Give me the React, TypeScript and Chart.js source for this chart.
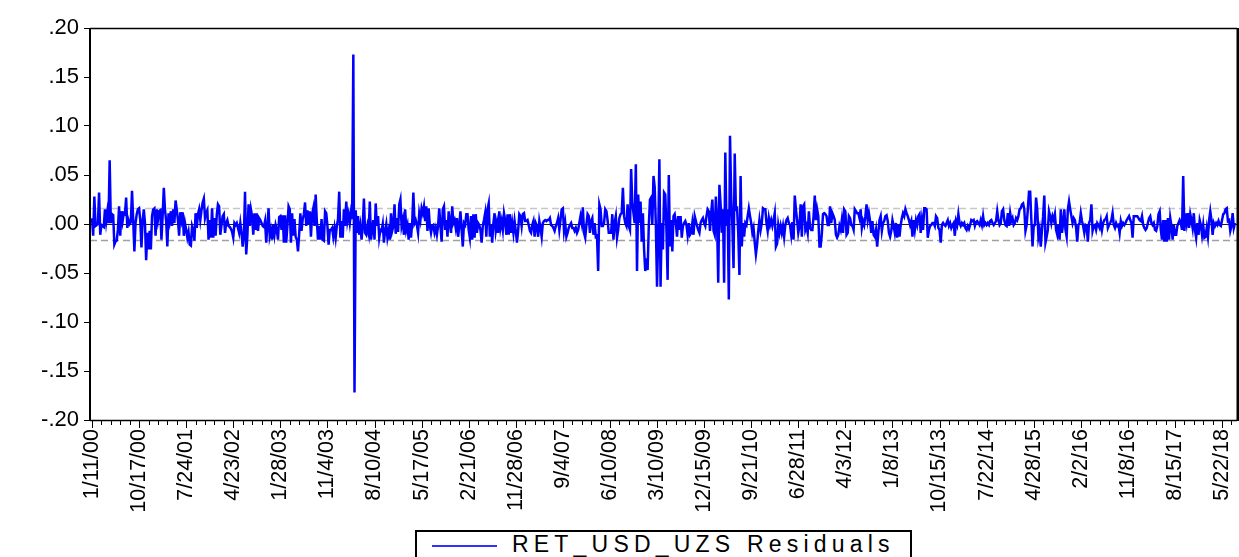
import { useEffect, useRef } from 'react';
import { Chart, registerables } from 'chart.js';

Chart.register(...registerables);

// Weekly residuals of RET_USD_UZS, starting 1/11/00 (one value per week)
const residJan2000toAug2001 = [
  0.006,-0.012,0.028,-0.002,-0.001,0.000,0.032,-0.011,-0.001,-0.002,
  -0.003,0.015,0.002,0.012,0.001,0.065,0.001,0.010,0.009,-0.021,
  -0.018,-0.017,-0.006,0.018,-0.012,0.013,0.003,0.011,0.010,0.027,
  -0.004,0.004,0.000,0.002,0.034,0.004,-0.028,0.001,0.010,0.015,
  0.016,0.004,-0.024,0.003,0.015,0.001,-0.037,-0.009,-0.026,-0.007,
  -0.026,0.008,0.015,0.016,-0.012,0.015,0.004,0.013,0.014,-0.016,
  0.008,0.037,0.015,0.003,-0.023,0.011,0.003,0.013,-0.002,0.015,
  0.001,0.024,0.015,0.004,-0.012,0.012,0.004,0.012,-0.012,0.001,
  -0.006,-0.014,-0.008,-0.021,
];
const residAug2001toApr2003 = [
  -0.022,-0.002,-0.006,-0.017,0.011,-0.004,0.010,0.015,0.004,0.014,
  0.022,0.026,0.006,0.011,0.014,-0.016,0.004,-0.014,0.016,-0.014,
  0.006,-0.012,0.009,0.020,0.018,-0.011,-0.001,0.008,0.010,-0.009,
  0.001,0.004,-0.002,-0.003,-0.005,-0.008,-0.014,0.001,-0.001,0.001,
  -0.004,-0.009,0.001,-0.009,-0.023,-0.012,0.033,-0.031,-0.012,0.020,
  -0.002,0.015,0.008,-0.011,0.011,-0.006,0.011,-0.007,0.006,0.004,
  0.001,-0.002,-0.003,0.003,-0.019,-0.002,0.016,-0.012,-0.006,-0.016,
  -0.001,-0.011,-0.001,-0.006,-0.016,0.007,0.008,-0.006,0.009,-0.019,
  0.009,-0.019,-0.002,0.018,0.015,-0.019,0.011,-0.012,0.005,
];
const residMay2003toJan2005 = [
  -0.013,-0.016,-0.028,-0.010,0.011,-0.007,0.005,0.010,0.022,-0.002,
  0.014,0.000,0.013,-0.013,0.010,0.016,-0.002,0.030,0.003,-0.016,
  -0.002,-0.016,0.005,-0.016,-0.017,0.013,0.011,-0.002,-0.021,-0.006,
  -0.006,-0.004,-0.013,-0.004,-0.014,-0.002,0.005,0.033,-0.014,0.003,
  -0.014,0.015,-0.002,0.023,0.003,0.010,0.001,0.012,0.005,0.173,
  -0.172,0.014,-0.009,0.008,-0.011,-0.002,-0.016,-0.002,0.026,-0.009,
  -0.011,-0.002,-0.009,0.023,-0.016,-0.006,0.004,-0.016,0.021,-0.002,
  0.008,-0.014,-0.006,-0.007,0.000,-0.019,-0.007,0.000,-0.014,-0.007,
  -0.016,0.011,-0.007,-0.002,0.020,-0.010,0.006,-0.008,0.020,
];
const residFeb2005toOct2006 = [
  0.025,-0.002,0.004,-0.011,0.015,-0.006,-0.001,-0.016,0.001,-0.014,
  0.001,0.032,0.001,0.004,-0.001,-0.009,0.011,0.004,0.016,0.011,
  0.018,0.003,0.018,-0.007,0.016,-0.002,-0.009,-0.002,-0.001,-0.009,
  -0.004,-0.011,-0.002,0.016,-0.002,-0.018,0.015,0.018,-0.006,0.004,
  -0.013,0.013,0.001,-0.009,0.018,0.001,0.004,-0.004,0.006,-0.013,
  -0.002,0.013,-0.006,-0.023,0.001,-0.001,0.010,0.010,-0.006,-0.014,
  0.008,-0.016,0.010,-0.014,0.010,-0.009,0.001,-0.001,-0.006,-0.019,
  -0.002,0.004,0.011,-0.013,0.015,0.021,-0.013,-0.001,-0.019,0.001,
  0.011,-0.007,0.001,-0.009,0.013,-0.004,0.003,-0.006,0.011,
];
const residOct2006toJun2008 = [
  0.004,-0.011,0.010,-0.011,0.010,-0.009,0.001,-0.009,0.003,-0.007,
  -0.019,-0.007,0.010,0.008,-0.002,0.010,0.011,0.003,0.003,0.004,
  -0.001,-0.007,-0.009,-0.001,0.003,-0.013,0.001,-0.002,-0.013,0.003,
  -0.004,-0.013,0.001,0.003,0.004,0.003,0.004,0.004,0.006,-0.001,
  -0.002,-0.004,-0.007,-0.002,0.001,0.006,-0.006,0.004,0.015,0.016,
  -0.007,0.001,-0.013,-0.009,-0.004,-0.001,0.001,-0.004,-0.004,-0.007,
  -0.004,-0.009,-0.006,0.001,0.008,0.001,0.017,-0.009,-0.014,-0.001,
  0.010,0.008,-0.009,0.003,0.006,-0.011,0.001,-0.013,-0.012,-0.048,
  0.020,0.015,-0.002,-0.002,0.001,0.015,0.013,0.004,-0.009,-0.009,
];
const residJun2008toFeb2010 = [
  -0.009,0.010,-0.016,0.001,0.008,-0.014,-0.006,0.006,0.010,0.011,
  0.037,0.008,0.001,-0.002,0.020,-0.002,-0.006,0.056,0.021,0.011,
  0.001,0.061,-0.048,0.030,0.001,0.023,-0.018,0.011,-0.026,-0.048,
  -0.035,-0.047,-0.002,0.025,0.027,-0.001,0.049,0.038,-0.001,-0.064,
  -0.013,0.066,-0.064,0.001,-0.026,0.032,0.030,-0.006,-0.057,0.050,
  -0.023,0.004,-0.028,0.008,0.010,0.001,-0.013,0.008,-0.006,0.008,
  -0.014,-0.002,0.001,0.003,-0.001,-0.011,0.001,-0.011,-0.009,0.001,
  -0.011,0.008,0.003,-0.002,-0.006,-0.009,0.001,0.004,0.006,0.001,
  -0.002,0.008,0.015,0.013,-0.007,0.011,0.025,-0.007,-0.011,
];
const residFeb2010toNov2011 = [
  0.028,0.003,-0.060,0.040,0.020,-0.009,0.015,-0.060,0.073,-0.002,
  0.015,-0.077,0.090,0.028,-0.002,-0.045,0.072,0.015,0.016,-0.009,
  -0.052,0.049,-0.023,0.001,-0.013,0.001,-0.001,0.008,0.016,0.008,
  0.001,-0.009,-0.004,-0.019,-0.031,-0.021,-0.007,0.004,-0.006,0.001,
  0.016,0.015,0.015,0.001,-0.007,0.006,-0.001,0.004,-0.002,0.004,
  0.011,-0.023,-0.020,-0.001,-0.009,-0.002,-0.009,-0.002,-0.013,-0.001,
  0.004,0.006,0.001,-0.001,-0.011,0.002,-0.016,0.029,0.015,0.004,
  -0.009,-0.002,0.020,-0.013,0.018,0.020,-0.006,-0.002,-0.009,0.013,
  -0.004,-0.006,-0.006,0.008,0.029,0.004,0.015,0.008,-0.023,
];
const residNov2011toJul2013 = [
  -0.023,-0.010,0.010,0.011,0.010,0.008,-0.001,-0.001,0.018,0.001,
  0.011,0.008,0.004,-0.011,-0.014,-0.011,-0.002,-0.006,0.004,-0.009,
  0.015,0.013,-0.011,-0.009,0.008,0.006,-0.001,-0.002,-0.006,0.015,
  0.013,0.011,0.011,0.006,0.015,-0.004,0.003,-0.001,0.008,0.020,
  0.004,0.011,0.003,-0.009,0.003,-0.011,-0.013,-0.006,-0.023,-0.009,
  0.004,0.008,-0.007,0.001,0.003,0.008,0.009,0.003,-0.009,-0.013,
  -0.007,0.004,-0.002,-0.009,0.001,-0.014,-0.001,-0.013,-0.001,0.006,
  0.011,0.008,0.015,0.011,0.008,0.004,-0.001,0.003,-0.013,0.004,
  -0.006,0.004,-0.001,0.008,0.010,-0.009,0.004,-0.006,0.016,
];
const residJul2013toMar2015 = [
  0.016,0.015,-0.014,-0.006,-0.002,-0.001,0.001,0.001,-0.002,0.008,
  0.006,-0.004,-0.006,-0.019,-0.001,0.001,-0.001,-0.002,0.001,0.004,
  -0.002,0.001,-0.004,-0.001,0.001,-0.012,0.003,-0.001,0.010,0.001,
  -0.002,0.001,-0.001,0.001,-0.004,-0.006,-0.002,-0.005,-0.001,0.004,
  0.003,0.004,-0.002,0.002,0.003,0.001,-0.001,0.004,-0.001,0.008,
  -0.001,0.001,-0.001,0.001,-0.001,0.003,0.004,0.001,-0.001,0.001,
  0.003,0.013,0.004,-0.001,0.001,0.013,0.015,0.004,-0.001,-0.002,
  0.011,-0.002,0.011,0.003,0.006,-0.001,0.001,0.006,0.004,0.008,
  0.015,0.016,0.020,0.021,0.015,-0.007,-0.001,0.015,0.033,
];
const residApr2015toDec2016 = [
  0.033,0.004,-0.023,-0.002,-0.001,0.027,0.015,-0.013,-0.006,-0.023,
  -0.006,0.008,0.029,-0.019,-0.013,-0.006,0.013,0.008,0.001,0.008,
  0.004,0.010,-0.006,-0.011,-0.001,-0.016,0.015,-0.009,0.001,0.015,
  -0.006,-0.013,0.015,0.023,0.015,0.008,0.001,0.006,0.004,-0.004,
  -0.018,-0.001,0.001,0.011,0.003,-0.002,-0.009,-0.001,-0.002,-0.018,
  0.001,0.004,0.020,-0.007,-0.002,-0.001,-0.006,0.001,-0.001,-0.004,
  0.003,-0.006,0.001,0.004,0.005,0.008,-0.004,-0.001,0.001,0.004,
  0.011,-0.001,-0.004,0.001,-0.002,-0.001,-0.009,0.003,-0.002,0.001,
  -0.001,0.001,0.004,0.006,0.008,0.004,0.001,-0.014,0.008,0.008,
];
const residDec2016toJul2018 = [
  0.008,0.008,0.006,0.004,0.003,0.008,-0.001,-0.004,-0.006,-0.004,
  0.001,0.006,0.008,0.001,-0.001,0.001,-0.006,-0.007,-0.002,0.010,
  0.013,-0.006,-0.016,0.004,-0.018,0.004,-0.018,0.006,-0.016,0.006,
  -0.002,-0.016,-0.001,-0.011,-0.011,-0.002,0.001,0.004,0.001,-0.006,
  0.049,-0.007,0.011,0.001,0.011,-0.004,0.010,0.004,-0.004,0.011,
  -0.006,-0.014,0.001,-0.011,0.004,-0.001,-0.011,-0.001,-0.014,-0.013,
  -0.004,-0.013,0.004,0.013,0.004,-0.011,0.001,-0.002,0.001,-0.001,
  0.003,-0.001,-0.002,0.004,0.010,0.011,0.015,0.016,0.003,0.004,
  -0.007,-0.002,0.011,-0.004,0.001,
];

// Date labels shown every 40 weeks on the x axis
const tickLabels = [
  '1/11/00', '10/17/00', '7/24/01', '4/23/02', '1/28/03', '11/4/03', '8/10/04',
  '5/17/05', '2/21/06', '11/28/06', '9/4/07', '6/10/08', '3/10/09', '12/15/09',
  '9/21/10', '6/28/11', '4/3/12', '1/8/13', '10/15/13', '7/22/14', '4/28/15',
  '2/2/16', '11/8/16', '8/15/17', '5/22/18',
];
const labelEvery = 40;
const minorTickEvery = 8;

// Y axis ticks and the +/- band drawn as dashed lines
const yTicks = [-0.2, -0.15, -0.1, -0.05, 0, 0.05, 0.1, 0.15, 0.2];
const bandUpper = 0.0168;
const bandLower = -0.0165;

const seriesName = 'RET_USD_UZS Residuals';

const residuals: number[] = [
  ...residJan2000toAug2001,
  ...residAug2001toApr2003,
  ...residMay2003toJan2005,
  ...residFeb2005toOct2006,
  ...residOct2006toJun2008,
  ...residJun2008toFeb2010,
  ...residFeb2010toNov2011,
  ...residNov2011toJul2013,
  ...residJul2013toMar2015,
  ...residApr2015toDec2016,
  ...residDec2016toJul2018,
];

const FONT = "'Liberation Sans', Arial, sans-serif";

const fmtY = (v: number) => {
  const s = v.toFixed(2);
  return s.replace(/^(-?)0\./, '$1.');
};

const framePlugin = {
  id: 'eviewsFrame',
  beforeDatasetsDraw(chart: any) {
    const { ctx, chartArea, scales } = chart;
    const { left, right } = chartArea;
    const y = scales.y;
    ctx.save();
    ctx.setLineDash([7, 4]);
    ctx.lineWidth = 1.3;
    ctx.strokeStyle = '#c6c6c6';
    let py = Math.round(y.getPixelForValue(bandUpper)) + 0.5;
    ctx.beginPath(); ctx.moveTo(left, py); ctx.lineTo(right, py); ctx.stroke();
    ctx.strokeStyle = '#a0a0a0';
    py = Math.round(y.getPixelForValue(bandLower)) + 0.5;
    ctx.beginPath(); ctx.moveTo(left, py); ctx.lineTo(right, py); ctx.stroke();
    ctx.setLineDash([]);
    ctx.strokeStyle = '#202020';
    ctx.lineWidth = 1;
    py = Math.round(y.getPixelForValue(0)) + 0.5;
    ctx.beginPath(); ctx.moveTo(left, py); ctx.lineTo(right, py); ctx.stroke();
    ctx.restore();
  },
  afterDraw(chart: any) {
    const { ctx, chartArea, scales } = chart;
    const { left, right, top, bottom } = chartArea;
    const x = scales.x;
    ctx.save();
    ctx.strokeStyle = '#000';
    // frame
    ctx.lineWidth = 1.5;
    ctx.beginPath();
    ctx.moveTo(left, top + 0.5); ctx.lineTo(right, top + 0.5);
    ctx.moveTo(left, bottom + 0.5); ctx.lineTo(right, bottom + 0.5);
    ctx.stroke();
    ctx.lineWidth = 2;
    ctx.beginPath();
    ctx.moveTo(left, top); ctx.lineTo(left, bottom + 1);
    ctx.stroke();
    ctx.lineWidth = 2.5;
    ctx.beginPath();
    ctx.moveTo(right + 0.75, top); ctx.lineTo(right + 0.75, bottom + 1);
    ctx.stroke();
    // x ticks (major every 40, minor every 8)
    ctx.lineWidth = 1;
    ctx.beginPath();
    for (let k = 0; k < residuals.length; k += minorTickEvery) {
      const px = Math.round(x.getPixelForValue(k)) + 0.5;
      const len = k % labelEvery === 0 ? 7 : 4;
      ctx.moveTo(px, bottom + 1);
      ctx.lineTo(px, bottom + 1 + len);
    }
    ctx.stroke();
    ctx.restore();
  },
};

export default function App() {
  const ref = useRef<HTMLCanvasElement>(null);

  useEffect(() => {
    const canvas = ref.current;
    if (!canvas) return;
    const chart = new Chart(canvas, {
      type: 'line',
      data: {
        datasets: [
          {
            label: seriesName,
            data: residuals.map((v, i) => ({ x: i, y: v })),
            borderColor: '#0000ff',
            borderWidth: 2.5,
            pointRadius: 0,
            tension: 0,
            fill: false,
          },
        ],
      },
      options: {
        animation: false,
        responsive: false,
        devicePixelRatio: 1,
        layout: { padding: { top: 28, right: 2, left: 0, bottom: 0 } },
        plugins: {
          legend: { display: false },
          tooltip: { enabled: false },
        },
        scales: {
          x: {
            type: 'linear',
            min: -1.7,
            max: 972.7,
            grid: { display: false, drawTicks: false },
            border: { display: false },
            afterBuildTicks: (scale: any) => {
              scale.ticks = tickLabels.map((_, k) => ({ value: k * labelEvery }));
            },
            afterFit: (scale: any) => {
              scale.height = 137;
              scale.paddingLeft = 0;
              scale.paddingRight = 0;
            },
            ticks: {
              autoSkip: false,
              maxRotation: 90,
              minRotation: 90,
              padding: 9,
              color: '#000',
              font: { family: FONT, size: 21.5 },
              callback: (v: any) => tickLabels[Math.round(Number(v) / labelEvery)] ?? '',
            },
          },
          y: {
            type: 'linear',
            min: -0.2,
            max: 0.2,
            grid: {
              display: true,
              drawOnChartArea: false,
              drawTicks: true,
              tickLength: 6,
              tickColor: '#000',
              tickWidth: 1,
            },
            border: { display: false },
            afterBuildTicks: (scale: any) => {
              scale.ticks = yTicks.map((v) => ({ value: v }));
            },
            afterFit: (scale: any) => {
              scale.width = 90;
              scale.paddingTop = 0;
              scale.paddingBottom = 0;
            },
            ticks: {
              padding: 5,
              color: '#000',
              font: { family: FONT, size: 22 },
              callback: (v: any) => fmtY(Number(v)),
            },
          },
        },
      },
      plugins: [framePlugin],
    } as any);
    return () => chart.destroy();
  }, []);

  return (
    <div
      style={{
        position: 'fixed',
        left: 0,
        top: 0,
        width: 1239,
        height: 557,
        overflow: 'hidden',
        background: '#fff',
      }}
    >
      <canvas ref={ref} width={1239} height={557} style={{ display: 'block' }} />
      <div
        style={{
          position: 'absolute',
          left: 415,
          top: 530,
          width: 497,
          height: 40,
          border: '2px solid #000',
          boxSizing: 'border-box',
          background: '#fff',
        }}
      />
      <div
        style={{
          position: 'absolute',
          left: 432,
          top: 545,
          width: 65,
          height: 2,
          background: '#3030ff',
        }}
      />
      <div
        style={{
          position: 'absolute',
          left: 512,
          top: 533,
          fontFamily: FONT,
          fontSize: 23,
          lineHeight: '23px',
          letterSpacing: '5.2px',
          whiteSpace: 'nowrap',
          color: '#000',
        }}
      >
        {seriesName}
      </div>
    </div>
  );
}
